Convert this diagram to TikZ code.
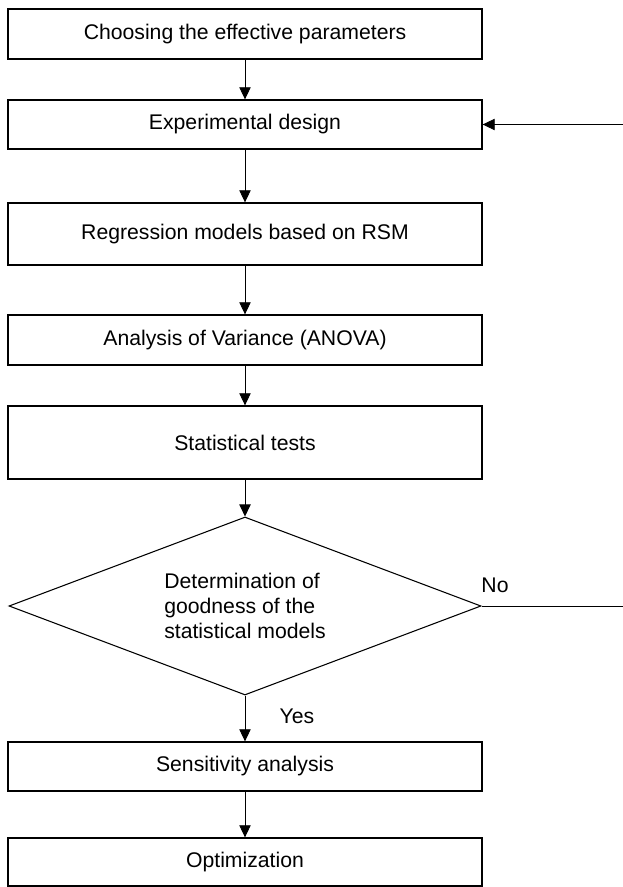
\documentclass[tikz,border=0pt]{standalone}
\usepackage{fontspec}
\setmainfont{Liberation Sans}
\usepackage{tikz}
\usetikzlibrary{shapes.geometric, arrows.meta}
\usepackage{amsmath}

\begin{document}
\begin{tikzpicture}[x=0.75pt,y=0.75pt,yscale=-1,xscale=1,
  font=\fontsize{15.9}{19}\selectfont,
  proc/.style={draw, line width=1pt, rectangle, minimum width=355.5pt, inner sep=0pt},
  decide/.style={draw, line width=0.8pt, diamond, aspect=2.65, minimum width=354pt, minimum height=133.5pt, inner sep=0pt, align=left},
  conn/.style={line width=0.55pt, -{Triangle[length=9pt,width=8.5pt]}}]
\useasboundingbox (0,0) rectangle (623,887);

% Process boxes
\node [proc, minimum height=37.5pt] (params) at (245,34) {Choosing the effective parameters};
\node [proc, minimum height=36.75pt] (design) at (245,124.5) {Experimental design};
\node [proc, minimum height=46.5pt] (regress) at (245,234) {Regression models based on RSM};
\node [proc, minimum height=37.5pt] (anova) at (245,340) {Analysis of Variance (ANOVA)};
\node [proc, minimum height=54.75pt] (tests) at (245,442.5) {Statistical tests};
% Decision
\node [decide] (good) at (245,606) {Determination of\\goodness of the\\statistical models};
\node [proc, minimum height=36.75pt] (sens) at (245,766.5) {Sensitivity analysis};
\node [proc, minimum height=36pt] (optim) at (245,862) {Optimization};

% Loop ends
\coordinate (loopin) at (623,124.5);
\coordinate (loopout) at (623,606);

%Straight Lines
\draw [conn] (params) -- (design);
\draw [conn] (design) -- (regress);
\draw [conn] (regress) -- (anova);
\draw [conn] (anova) -- (tests);
\draw [conn] (tests) -- (good);
\draw [conn] (good) -- (sens);
\draw [conn] (sens) -- (optim);
\draw [conn] (loopin) -- (design);
\draw [line width=0.55pt] (good.east) -- (loopout);

% Text Node
\node (yes) at (297,716) {Yes};
% Text Node
\node (no) at (495,585) {No};

\end{tikzpicture}
\end{document}
